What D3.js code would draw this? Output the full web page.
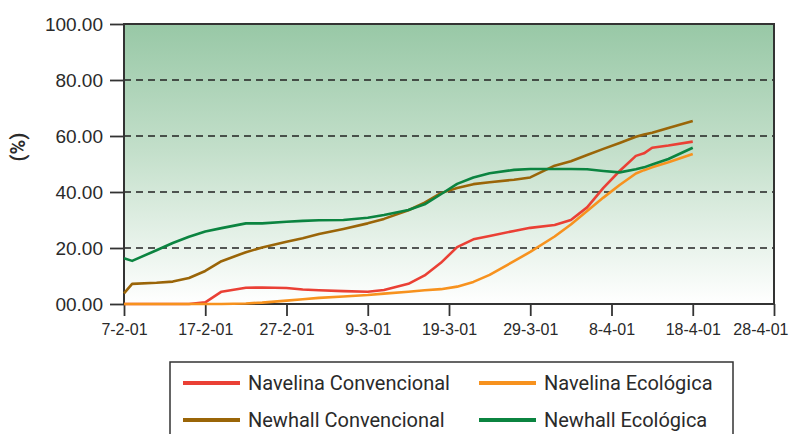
<!DOCTYPE html>
<html>
<head>
<meta charset="utf-8">
<script src="https://cdn.jsdelivr.net/npm/d3@7/dist/d3.min.js"></script>
<style>
  html, body { margin: 0; padding: 0; background: #fff; }
  svg { display: block; font-family: "Liberation Sans Narrow", "Arial Narrow", Roboto, sans-serif; }
</style>
</head>
<body>
<svg width="790" height="434"></svg>
<script>
// fechas de muestreo (d-m-yy)
const fechas = ["7-2-01","8-2-01","11-2-01","13-2-01","15-2-01","17-2-01","19-2-01","22-2-01","24-2-01","27-2-01",
  "1-3-01","3-3-01","6-3-01","9-3-01","11-3-01","14-3-01","16-3-01","18-3-01","20-3-01","22-3-01","24-3-01","27-3-01","29-3-01",
  "1-4-01","3-4-01","5-4-01","7-4-01","9-4-01","11-4-01","12-4-01","13-4-01","15-4-01","18-4-01"];

const navelinaConv = [0,0,0,0,0,0.6,4.4,5.8,5.9,5.7,5.2,4.9,4.6,4.4,5.0,7.2,10.2,14.7,20.3,23.1,24.3,26.1,27.2,28.2,30.0,34.5,41.5,47.5,52.9,53.8,55.8,56.6,58.0];
const navelinaEco  = [0,0,0,0,0,0,0,0.2,0.5,1.2,1.7,2.2,2.7,3.2,3.7,4.4,4.9,5.3,6.2,7.9,10.4,15.3,18.6,24.1,28.4,33.2,38.0,42.5,46.6,47.8,48.8,50.6,53.6];
const newhallConv  = [3.8,7.2,7.6,8.0,9.3,11.8,15.3,18.5,20.2,22.2,23.5,25.0,26.8,28.8,30.4,33.5,36.2,39.6,41.4,42.8,43.5,44.4,45.2,49.4,51.0,53.2,55.4,57.5,59.7,60.5,61.2,62.9,65.4];
const newhallEco   = [16.3,15.4,19.2,21.8,24.0,25.9,27.1,28.8,28.8,29.4,29.7,29.9,30.0,30.8,31.8,33.6,35.6,39.2,42.9,45.2,46.7,47.9,48.2,48.2,48.2,48.1,47.5,47.0,48.1,48.8,49.8,51.8,55.8];

const xTicks = ["7-2-01","17-2-01","27-2-01","9-3-01","19-3-01","29-3-01","8-4-01","18-4-01","28-4-01"];
const yTicks = [0,20,40,60,80,100];

const parse = d3.timeParse("%d-%m-%y");
const fmt = d3.timeFormat("%-d-%-m-%y");

const series = [
  { name: "Navelina Convencional", values: navelinaConv, color: "#ea4035" },
  { name: "Navelina Ecológica",    values: navelinaEco,  color: "#f7921e" },
  { name: "Newhall Convencional",  values: newhallConv,  color: "#9a6508" },
  { name: "Newhall Ecológica",     values: newhallEco,   color: "#0b8440" }
];

const svg = d3.select("svg");
const margin = { top: 24, right: 16, bottom: 130, left: 124 };
const width = 790, height = 434;
const innerW = width - margin.left - margin.right;
const innerH = height - margin.top - margin.bottom;

const x = d3.scaleTime()
  .domain([parse(xTicks[0]), parse(xTicks[xTicks.length - 1])])
  .range([0, innerW]);
const y = d3.scaleLinear().domain([0, 100]).range([innerH, 0]);

const g = svg.append("g").attr("transform", `translate(${margin.left},${margin.top})`);

// fondo degradado
const grad = svg.append("defs").append("linearGradient")
  .attr("id", "fondo").attr("x1", 0).attr("y1", 0).attr("x2", 0).attr("y2", 1);
grad.append("stop").attr("offset", "0%").attr("stop-color", "#98c8a6");
grad.append("stop").attr("offset", "45%").attr("stop-color", "#c3dfca");
grad.append("stop").attr("offset", "100%").attr("stop-color", "#ffffff");

g.append("rect")
  .attr("width", innerW).attr("height", innerH)
  .attr("fill", "url(#fondo)");

// rejilla
g.selectAll(".grid")
  .data(yTicks.filter(v => v > 0 && v < 100))
  .enter().append("line")
  .attr("x1", 0).attr("x2", innerW)
  .attr("y1", d => y(d)).attr("y2", d => y(d))
  .attr("stroke", "#222").attr("stroke-width", 1.4)
  .attr("stroke-dasharray", "7,5");

// ejes
const yAxis = g.append("g")
  .call(d3.axisLeft(y).tickValues(yTicks).tickSize(14).tickPadding(7)
    .tickFormat(d => d3.format("05.2f")(d)));
const xAxis = g.append("g")
  .attr("transform", `translate(0,${innerH})`)
  .call(d3.axisBottom(x).tickValues(xTicks.map(parse)).tickSize(12).tickPadding(8).tickFormat(fmt));

[yAxis, xAxis].forEach(a => {
  a.select(".domain").remove();
  a.selectAll(".tick line").attr("stroke", "#333").attr("stroke-width", 1.8);
  a.selectAll("text").attr("fill", "#2a2a2a");
});
yAxis.selectAll("text").style("font-size", "19px").attr("dy", "0.35em");
xAxis.selectAll("text").style("font-size", "16px");
// la última etiqueta se ajusta al borde
xAxis.selectAll(".tick:last-of-type text").attr("text-anchor", "end").attr("dx", 14);

// marco
g.append("rect")
  .attr("width", innerW).attr("height", innerH)
  .attr("fill", "none").attr("stroke", "#333").attr("stroke-width", 2);

// líneas
const line = d3.line()
  .x((d, i) => x(parse(fechas[i])))
  .y(d => y(d));

series.forEach(s => {
  g.append("path")
    .datum(s.values)
    .attr("fill", "none")
    .attr("stroke", s.color)
    .attr("stroke-width", 2.6)
    .attr("stroke-linejoin", "round")
    .attr("d", line);
});

// título eje y
svg.append("text")
  .attr("transform", "translate(25,147) rotate(-90)")
  .attr("text-anchor", "middle")
  .style("font-size", "20px")
  .style("font-weight", 700)
  .attr("fill", "#2a2a2a")
  .text("(%)");

// leyenda
const leg = svg.append("g").attr("transform", "translate(170,362)");
leg.append("rect")
  .attr("width", 563).attr("height", 90)
  .attr("fill", "#fff").attr("stroke", "#333").attr("stroke-width", 1.5);

series.forEach((s, i) => {
  const col = i % 2, row = Math.floor(i / 2);
  const it = leg.append("g").attr("transform", `translate(${13 + col * 296},${21 + row * 37})`);
  it.append("line")
    .attr("x1", 0).attr("x2", 57).attr("y1", 0).attr("y2", 0)
    .attr("stroke", s.color).attr("stroke-width", 4);
  it.append("text")
    .attr("x", 65).attr("y", 0).attr("dy", "0.35em")
    .style("font-size", "20px")
    .attr("fill", "#2a2a2a")
    .text(s.name);
});
</script>
</body>
</html>
